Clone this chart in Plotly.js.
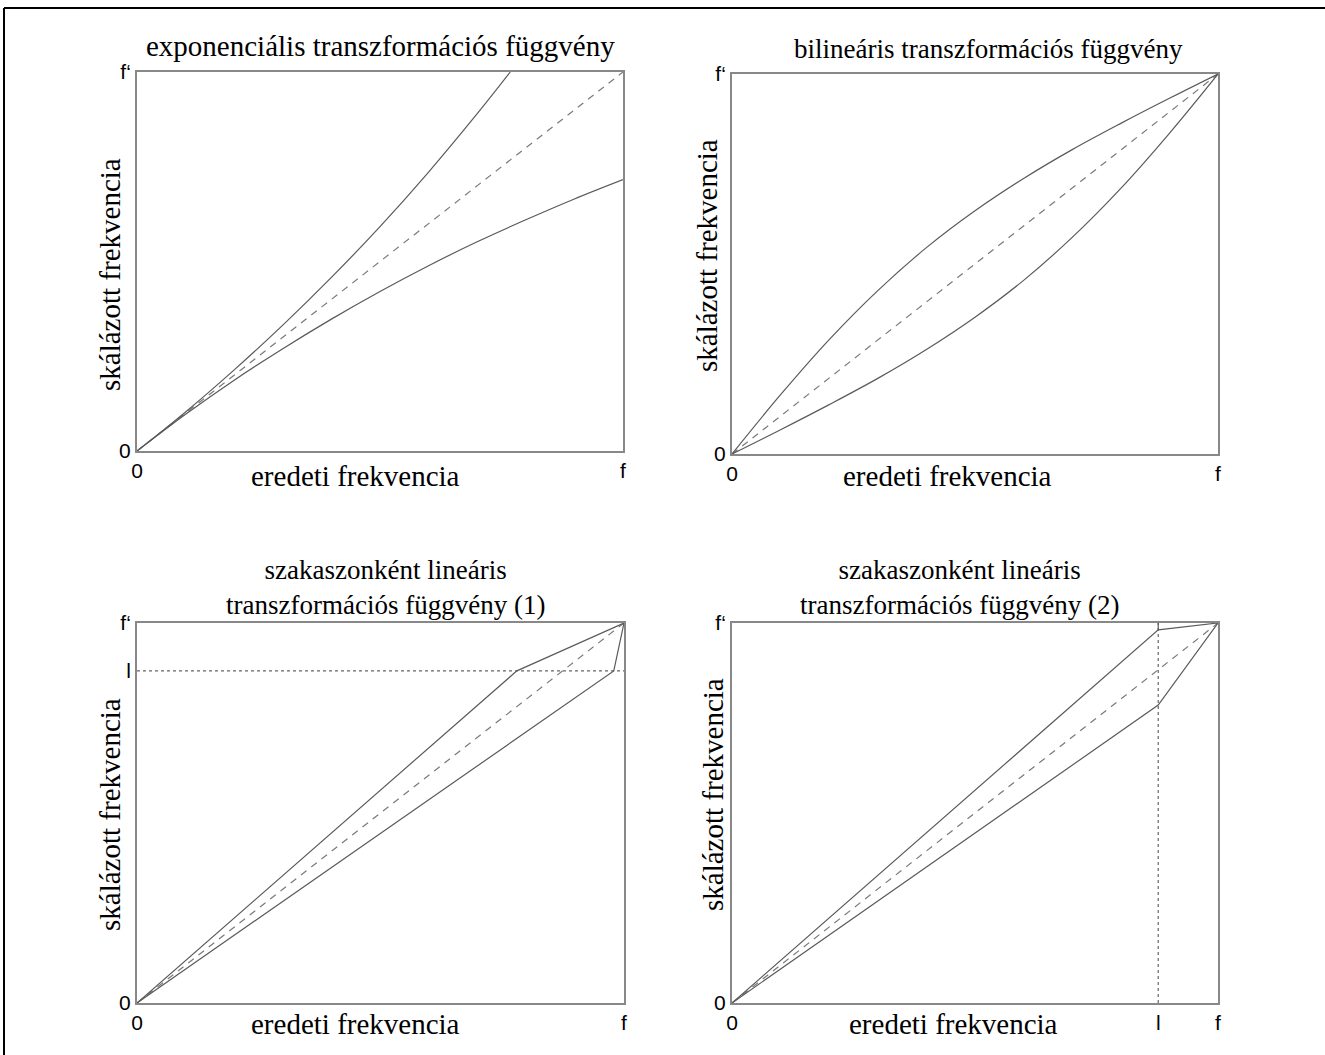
<!DOCTYPE html>
<html>
<head>
<meta charset="utf-8">
<script src="https://cdn.plot.ly/plotly-3.0.1.min.js"></script>
<style>
  html, body { margin: 0; padding: 0; background: #fff; }
  #chart { width: 1325px; height: 1055px; }
</style>
</head>
<body>
<div id="chart"></div>
<script>
// ---- data (normalised 0..1 axes) ----
const diagX = [0, 1];
const diagY = [0, 1];

// panel 1: exponential transformation
const expUpperX = [0, 0.1, 0.2, 0.3, 0.4, 0.5, 0.6, 0.7, 0.768];
const expUpperY = [0, 0.103, 0.214, 0.332, 0.458, 0.592, 0.736, 0.890, 1.0];
const expLowerX = [0, 0.1, 0.2, 0.3, 0.4, 0.5, 0.6, 0.7, 0.8, 0.9, 1.0];
const expLowerY = [0, 0.097, 0.187, 0.270, 0.348, 0.421, 0.489, 0.552, 0.610, 0.665, 0.716];

// panel 2: bilinear transformation
const bilX = [0, 0.1, 0.2, 0.3, 0.4, 0.5, 0.6, 0.7, 0.8, 0.9, 1.0];
const bilUpperY = [0, 0.156, 0.301, 0.430, 0.543, 0.640, 0.725, 0.801, 0.870, 0.936, 1.0];
const bilLowerY = [0, 0.064, 0.130, 0.199, 0.275, 0.360, 0.457, 0.570, 0.699, 0.844, 1.0];

// panel 3: piecewise linear (1)
const pw1Level = 0.874;
const pw1UpperX = [0, 0.780, 1];
const pw1UpperY = [0, 0.874, 1];
const pw1LowerX = [0, 0.979, 1];
const pw1LowerY = [0, 0.874, 1];

// panel 4: piecewise linear (2)
const pw2Level = 0.877;
const pw2UpperX = [0, 0.877, 1];
const pw2UpperY = [0, 0.982, 1];
const pw2LowerX = [0, 0.877, 1];
const pw2LowerY = [0, 0.784, 1];

// tick labels
const tickZero = '0';
const tickFx = 'f';
const tickFy = 'f‘';
const tickL = 'l';

const titles = [
  'exponenciális transzformációs függvény',
  'bilineáris transzformációs függvény',
  'szakaszonként lineáris<br>transzformációs függvény (1)',
  'szakaszonként lineáris<br>transzformációs függvény (2)'
];
const xTitle = 'eredeti frekvencia';
const yTitle = 'skálázott frekvencia';

// ---- styling ----
const W = 1325, H = 1055;
const curveLine = {color: '#5a5a5a', width: 1.2};
const diagLine = {color: '#7a7a7a', width: 1.2, dash: '7px,6px'};
const dotLine = {color: '#666', width: 1.2, dash: 'dot'};
const serifFamily = 'Liberation Serif, Times New Roman, serif';
const serif = {family: serifFamily, size: 29, color: '#000'};
const sans = {family: 'Liberation Sans, Arial, sans-serif', size: 21, color: '#000'};
const titleSizes = [29, 27, 27, 27];

function px(x) { return x / W; }
function py(y) { return 1 - y / H; }

function ln(x, y, ax, line) {
  return {x: x, y: y, xaxis: 'x' + ax, yaxis: 'y' + ax, type: 'scatter', mode: 'lines',
          line: line, hoverinfo: 'skip', showlegend: false, cliponaxis: false};
}

const traces = [
  ln(diagX, diagY, '', diagLine),
  ln(expUpperX, expUpperY, '', Object.assign({shape: 'spline'}, curveLine)),
  ln(expLowerX, expLowerY, '', Object.assign({shape: 'spline'}, curveLine)),

  ln(diagX, diagY, '2', diagLine),
  ln(bilX, bilUpperY, '2', Object.assign({shape: 'spline'}, curveLine)),
  ln(bilX, bilLowerY, '2', Object.assign({shape: 'spline'}, curveLine)),

  ln(diagX, diagY, '3', diagLine),
  ln([0, 1], [pw1Level, pw1Level], '3', dotLine),
  ln(pw1UpperX, pw1UpperY, '3', curveLine),
  ln(pw1LowerX, pw1LowerY, '3', curveLine),

  ln(diagX, diagY, '4', diagLine),
  ln([pw2Level, pw2Level], [0, 1], '4', dotLine),
  ln([pw2Level, pw2Level], [pw2UpperY[1], 1], '4', curveLine),
  ln(pw2UpperX, pw2UpperY, '4', curveLine),
  ln(pw2LowerX, pw2LowerY, '4', curveLine)
];

function axis(domain, anchor, tickvals, ticktext) {
  return {
    domain: domain, anchor: anchor, range: [0, 1], fixedrange: true,
    showgrid: false, zeroline: false, showline: true, mirror: true,
    linecolor: '#888', linewidth: 2, ticks: '',
    tickmode: 'array', tickvals: tickvals, ticktext: ticktext,
    tickfont: sans
  };
}

const layout = {
  width: W, height: H, autosize: false,
  margin: {l: 0, r: 0, t: 0, b: 0, pad: 0},
  paper_bgcolor: '#fff', plot_bgcolor: '#fff',
  showlegend: false,
  xaxis:  axis([px(137), px(623)], 'y',  [0, 1], [tickZero, tickFx]),
  yaxis:  axis([py(451), py(72)],  'x',  [0, 1], [tickZero, tickFy]),
  xaxis2: axis([px(732), px(1218)], 'y2', [0, 1], [tickZero, tickFx]),
  yaxis2: axis([py(454), py(74)],  'x2', [0, 1], [tickZero, tickFy]),
  xaxis3: axis([px(137), px(624)], 'y3', [0, 1], [tickZero, tickFx]),
  yaxis3: axis([py(1003), py(623)], 'x3', [0, pw1Level, 1], [tickZero, tickL, tickFy]),
  xaxis4: axis([px(732), px(1218)], 'y4', [0, pw2Level, 1], [tickZero, tickL, tickFx]),
  yaxis4: axis([py(1003), py(623)], 'x4', [0, 1], [tickZero, tickFy]),
  shapes: [
    {type: 'line', xref: 'paper', yref: 'paper', x0: px(4), x1: px(4), y0: 0, y1: py(8),
     line: {color: '#000', width: 2}},
    {type: 'line', xref: 'paper', yref: 'paper', x0: px(4), x1: 1, y0: py(8), y1: py(8),
     line: {color: '#000', width: 2}}
  ],
  annotations: []
};

// titles
const titlePos = [[380, 46], [988, 49], [385, 587], [960, 587]];
titles.forEach(function (t, i) {
  layout.annotations.push({text: t, xref: 'paper', yref: 'paper',
    x: px(titlePos[i][0]), y: py(titlePos[i][1]), xanchor: 'center', yanchor: 'middle',
    showarrow: false, font: {family: serifFamily, size: titleSizes[i], color: '#000'}});
});
// x axis titles
const xtPos = [[355, 476], [947, 476], [355, 1024], [953, 1024]];
xtPos.forEach(function (p) {
  layout.annotations.push({text: xTitle, xref: 'paper', yref: 'paper',
    x: px(p[0]), y: py(p[1]), xanchor: 'center', yanchor: 'middle',
    showarrow: false, font: serif});
});
// y axis titles
const ytPos = [[110, 275], [707, 255], [110, 815], [713, 795]];
ytPos.forEach(function (p) {
  layout.annotations.push({text: yTitle, xref: 'paper', yref: 'paper',
    x: px(p[0]), y: py(p[1]), xanchor: 'center', yanchor: 'middle', textangle: -90,
    showarrow: false, font: serif});
});

Plotly.newPlot('chart', traces, layout, {staticPlot: true, displayModeBar: false});
</script>
</body>
</html>
